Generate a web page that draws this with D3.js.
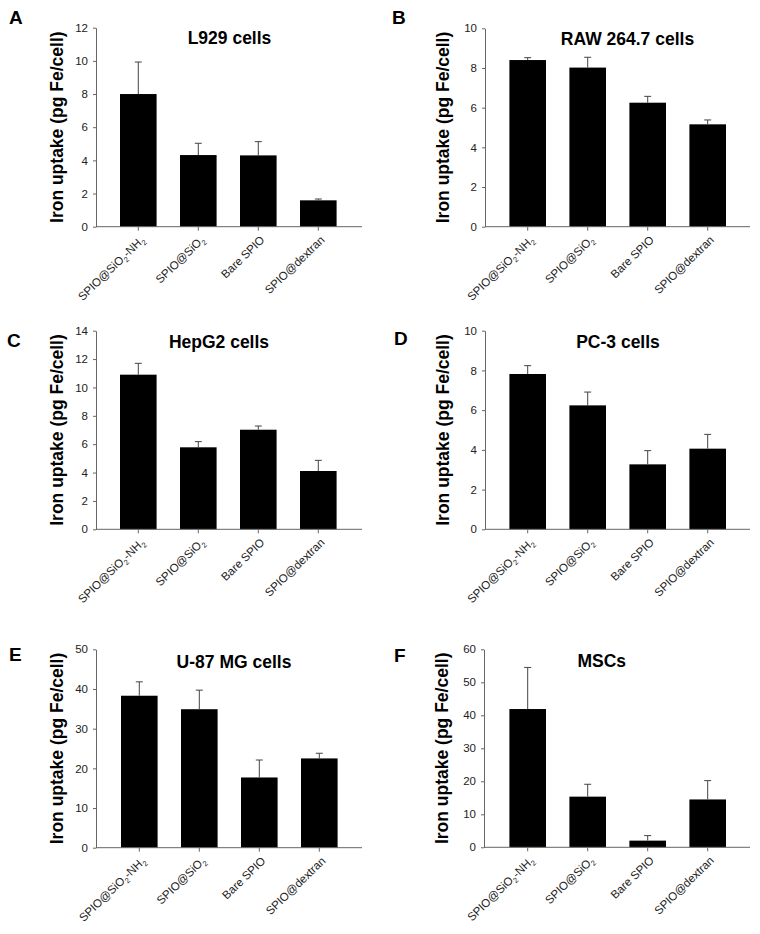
<!DOCTYPE html>
<html>
<head>
<meta charset="utf-8">
<script src="https://cdn.jsdelivr.net/npm/d3@7"></script>
<style>
  html, body { margin: 0; padding: 0; background: #fff; }
  svg { display: block; }
</style>
</head>
<body>
<svg id="chart" width="760" height="934"></svg>
<script>
// ---------------- DATA ----------------
const categories = ["SPIO@SiO2-NH2", "SPIO@SiO2", "Bare SPIO", "SPIO@dextran"];
const panelLetters = ["A", "B", "C", "D", "E", "F"];
const panelTitles = ["L929 cells", "RAW 264.7 cells", "HepG2 cells", "PC-3 cells", "U-87 MG cells", "MSCs"];
const yAxisLabel = "Iron uptake (pg Fe/cell)";

const meansA = [8.00, 4.32, 4.30, 1.59];
const errA   = [1.93, 0.71, 0.83, 0.08];
const meansB = [8.40, 8.02, 6.25, 5.16];
const errB   = [0.12, 0.52, 0.32, 0.22];
const meansC = [10.90, 5.78, 7.02, 4.11];
const errC   = [0.80, 0.40, 0.26, 0.75];
const meansD = [7.82, 6.24, 3.27, 4.06];
const errD   = [0.42, 0.67, 0.69, 0.72];
const meansE = [38.3, 34.9, 17.7, 22.5];
const errE   = [3.5, 4.8, 4.4, 1.3];
const meansF = [41.9, 15.35, 2.02, 14.5];
const errF   = [12.6, 3.75, 1.52, 5.7];

const ticksA = [0, 2, 4, 6, 8, 10, 12];
const ticksB = [0, 2, 4, 6, 8, 10];
const ticksC = [0, 2, 4, 6, 8, 10, 12, 14];
const ticksD = [0, 2, 4, 6, 8, 10];
const ticksE = [0, 10, 20, 30, 40, 50];
const ticksF = [0, 10, 20, 30, 40, 50, 60];

const allMeans = [meansA, meansB, meansC, meansD, meansE, meansF];
const allErrs  = [errA, errB, errC, errD, errE, errF];
const allTicks = [ticksA, ticksB, ticksC, ticksD, ticksE, ticksF];

// ---------------- LAYOUT ----------------
const layout = [
  {ax: 96,  ar: 362, yt: 27.7,  yb: 226.7, bl: 108.3, lx: 9,   ly: 23.5,  tx: 229.5, ty: 43.5,  labX: 63},
  {ax: 485, ar: 750, yt: 28.3,  yb: 226.7, bl: 497.7, lx: 392, ly: 23.5,  tx: 627.5, ty: 44.5,  labX: 449},
  {ax: 96,  ar: 362, yt: 330.7, yb: 529.3, bl: 108.3, lx: 7,   ly: 346.8, tx: 219,   ty: 347.8, labX: 63},
  {ax: 485, ar: 750, yt: 330.7, yb: 529.3, bl: 497.7, lx: 394, ly: 345.2, tx: 618,   ty: 347.8, labX: 449},
  {ax: 96,  ar: 362, yt: 649.3, yb: 847.7, bl: 109.3, lx: 9,   ly: 660.5, tx: 234,   ty: 668,   labX: 63},
  {ax: 484, ar: 750, yt: 649.3, yb: 847.3, bl: 497.7, lx: 394, ly: 661.5, tx: 601.7, ty: 667,   labX: 448}
];

const FONT = "'Liberation Sans', Arial, Helvetica, sans-serif";
const axisColor = "#666";
const textColor = "#222";

const svg = d3.select("#chart");

function addLabel(sel, str) {
  // digits rendered as subscripts
  const parts = str.split(/(\d)/).filter(s => s.length);
  let prevSub = false;
  parts.forEach(p => {
    if (/^\d$/.test(p)) {
      sel.append("tspan").attr("font-size", "7.5px").attr("dy", "3").text(p);
      prevSub = true;
    } else {
      const t = sel.append("tspan").text(p);
      if (prevSub) t.attr("dy", "-3");
      prevSub = false;
    }
  });
}

layout.forEach((L, i) => {
  const means = allMeans[i], errs = allErrs[i], ticks = allTicks[i];
  const g = svg.append("g");

  const y = d3.scaleLinear()
    .domain([0, d3.max(ticks)])
    .range([L.yb, L.yt]);

  const x = d3.scaleBand()
    .domain(categories)
    .range([L.bl, L.bl + 240])
    .paddingInner(0.39)
    .paddingOuter(0.195);

  // bars
  g.selectAll("rect.bar")
    .data(categories)
    .join("rect")
    .attr("class", "bar")
    .attr("x", d => x(d))
    .attr("width", x.bandwidth())
    .attr("y", (d, j) => y(means[j]))
    .attr("height", (d, j) => y(0) - y(means[j]))
    .attr("fill", "#000");

  // error bars (upper only)
  const eb = g.selectAll("g.err")
    .data(categories)
    .join("g")
    .attr("class", "err");
  eb.append("line")
    .attr("x1", d => x(d) + x.bandwidth() / 2)
    .attr("x2", d => x(d) + x.bandwidth() / 2)
    .attr("y1", (d, j) => y(means[j]))
    .attr("y2", (d, j) => y(means[j] + errs[j]))
    .attr("stroke", "#444")
    .attr("stroke-width", 1);
  eb.append("line")
    .attr("x1", d => x(d) + x.bandwidth() / 2 - 3.5)
    .attr("x2", d => x(d) + x.bandwidth() / 2 + 3.5)
    .attr("y1", (d, j) => y(means[j] + errs[j]))
    .attr("y2", (d, j) => y(means[j] + errs[j]))
    .attr("stroke", "#444")
    .attr("stroke-width", 1);

  // y axis
  const yAxis = g.append("g")
    .attr("transform", `translate(${L.ax},0)`)
    .call(d3.axisLeft(y).tickValues(ticks).tickSize(3).tickSizeOuter(0).tickPadding(5));
  yAxis.select(".domain").attr("stroke", axisColor);
  yAxis.selectAll(".tick line").attr("stroke", axisColor);
  yAxis.selectAll(".tick text")
    .attr("font-family", FONT)
    .attr("font-size", "11.5px")
    .attr("fill", textColor);

  // x axis
  const xAxis = g.append("g")
    .attr("transform", `translate(0,${L.yb})`)
    .call(d3.axisBottom(x).tickSize(4).tickSizeOuter(0).tickFormat(""));
  xAxis.select(".domain").remove();
  xAxis.selectAll(".tick line").attr("stroke", axisColor);
  g.append("line")
    .attr("x1", L.ax).attr("x2", L.ar)
    .attr("y1", L.yb).attr("y2", L.yb)
    .attr("stroke", axisColor).attr("stroke-width", 1);

  // x tick labels
  categories.forEach(c => {
    const cx = x(c) + x.bandwidth() / 2;
    const t = g.append("text")
      .attr("transform", `translate(${cx + 7},${L.yb + 14}) rotate(-44)`)
      .attr("text-anchor", "end")
      .attr("font-family", FONT)
      .attr("font-size", "11.5px")
      .attr("fill", textColor);
    addLabel(t, c);
  });

  // y axis label
  g.append("text")
    .attr("transform", `translate(${L.labX},${(L.yt + L.yb) / 2}) rotate(-90)`)
    .attr("text-anchor", "middle")
    .attr("font-family", FONT)
    .attr("font-weight", "bold")
    .attr("font-size", "17.5px")
    .attr("fill", "#000")
    .text(yAxisLabel);

  // title
  g.append("text")
    .attr("x", L.tx).attr("y", L.ty)
    .attr("text-anchor", "middle")
    .attr("font-family", FONT)
    .attr("font-weight", "bold")
    .attr("font-size", "17.5px")
    .attr("fill", "#000")
    .text(panelTitles[i]);

  // panel letter
  g.append("text")
    .attr("x", L.lx).attr("y", L.ly)
    .attr("font-family", FONT)
    .attr("font-weight", "bold")
    .attr("font-size", "19px")
    .attr("fill", "#000")
    .text(panelLetters[i]);
});
</script>
</body>
</html>
